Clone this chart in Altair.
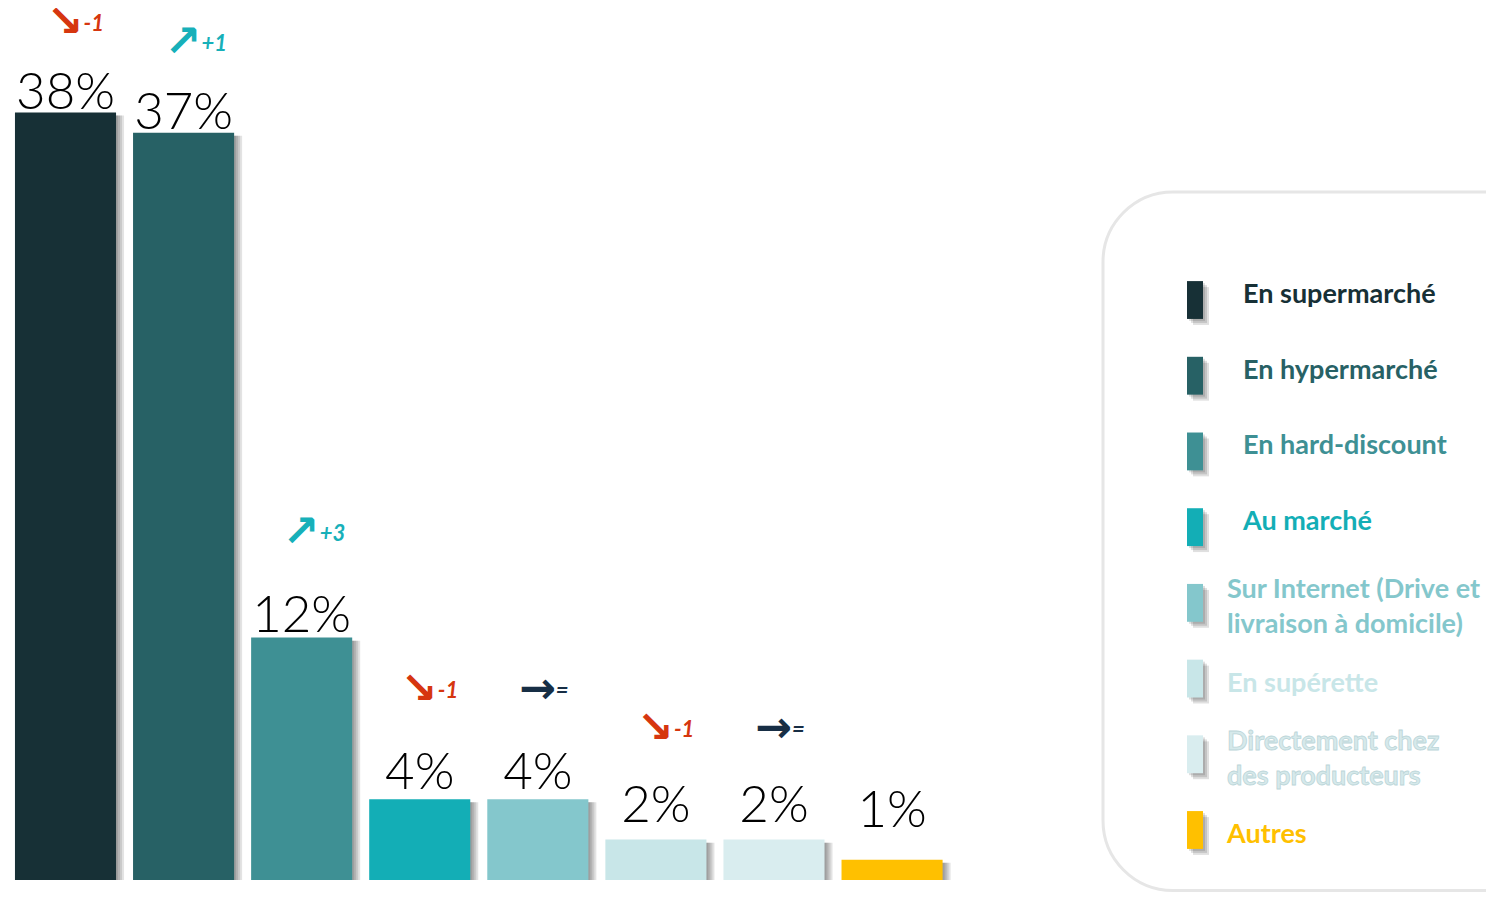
import altair as alt
import pandas as pd

# ---- data ----
categories = [
    "En supermarché", "En hypermarché", "En hard-discount", "Au marché",
    "Sur Internet (Drive et livraison à domicile)", "En supérette",
    "Directement chez des producteurs", "Autres",
]
legend_texts = [
    "En supermarché", "En hypermarché", "En hard-discount", "Au marché",
    "Sur Internet (Drive et\nlivraison à domicile)", "En supérette",
    "Directement chez\ndes producteurs", "Autres",
]
values = [38, 37, 12, 4, 4, 2, 2, 1]
changes = ["-1", "+1", "+3", "-1", "=", "-1", "=", ""]
bar_colors = ["#173036", "#276165", "#3E9094", "#13AEB6",
              "#84C7CC", "#C8E6E8", "#D9EDEF", "#FFC000"]
text_colors = ["#173036", "#276165", "#3E9094", "#13AEB6",
               "#84C7CC", "#C8E6E8", "#D6E9EB", "#FFC000"]

def arrow_of(c):
    if c.startswith("-"):
        return "↘", "#D6360F"
    if c.startswith("+"):
        return "↗", "#17B0B9"
    if c == "=":
        return "→", "#172E45"
    return "", "#000000"

arrows = [arrow_of(c)[0] for c in changes]
arrow_colors = [arrow_of(c)[1] for c in changes]

df = pd.DataFrame({
    "cat": categories,
    "value": values,
    "idx": list(range(len(values))),
    "color": bar_colors,
    "tcolor": text_colors,
    "change": changes,
    "arrow": arrows,
    "acolor": arrow_colors,
    "label": [f"{v}%" for v in values],
    "legend": legend_texts,
})

PXU = 20.2  # pixels per percent (for label offsets)
xs = alt.Scale(domain=[-0.487, 12.03], nice=False, zero=False)
ys = alt.Scale(domain=[-0.594, 43.17], nice=False, zero=False)
ly = alt.Scale(domain=[-3.857, 7.819], reverse=True, nice=False, zero=False)

base = alt.Chart(df).transform_calculate(
    x0="datum.idx - 0.428", x1="datum.idx + 0.428",
    base="0", stop="datum.value - 0.15",
    lab=f"datum.value + (3 + 30 / datum.value) / {PXU}",
    ann=f"datum.value + (112 - 0.6 * datum.value) / {PXU}",
)

# bar shadows
shadows = []
for k in [2, 4, 6, 8]:
    shadows.append(
        base.mark_rect(color="#000000", opacity=0.11, xOffset=k, x2Offset=k).encode(
            x=alt.X("x0:Q", scale=xs, axis=None), x2="x1:Q",
            y=alt.Y("stop:Q", scale=ys, axis=None), y2="base:Q",
        )
    )

bars = base.mark_rect().encode(
    x=alt.X("x0:Q", scale=xs, axis=None), x2="x1:Q",
    y=alt.Y("value:Q", scale=ys, axis=None), y2="base:Q",
    color=alt.Color("color:N", scale=None),
)

labels = base.mark_text(
    font="Lato", fontWeight=300, fontSize=51, align="center",
    baseline="alphabetic", color="#000000",
).encode(
    x=alt.X("idx:Q", scale=xs, axis=None),
    y=alt.Y("lab:Q", scale=ys, axis=None),
    text="label:N",
)

ann = base.transform_filter("datum.change != ''")
ann_arrow = ann.mark_text(
    font="DejaVu Sans", fontWeight="bold", fontSize=44, align="right",
    baseline="middle", dx=18,
).encode(
    x=alt.X("idx:Q", scale=xs, axis=None),
    y=alt.Y("ann:Q", scale=ys, axis=None),
    text="arrow:N",
    color=alt.Color("acolor:N", scale=None),
)
ann_num = ann.mark_text(
    font="Lato", fontWeight="bold", fontStyle="italic", fontSize=22,
    align="left", baseline="middle", dx=18, dy=1,
).encode(
    x=alt.X("idx:Q", scale=xs, axis=None),
    y=alt.Y("ann:Q", scale=ys, axis=None),
    text="change:N",
    color=alt.Color("acolor:N", scale=None),
)

# legend
frame = alt.Chart(pd.DataFrame({"k": [0]})).mark_rect(
    fillOpacity=0, stroke="#E6E6E6", strokeWidth=3, cornerRadius=70, clip=True,
).encode(
    x=alt.value(1095), x2=alt.value(1548), y=alt.value(184), y2=alt.value(882.5),
)

lbase = alt.Chart(df).transform_calculate(
    s0="datum.idx - 0.25", s1="datum.idx + 0.25",
    ty="datum.idx - (indexof(datum.legend, '\\n') >= 0 ? 0.231 : 0)",
)
lshadows = []
for k in [2, 4, 6]:
    lshadows.append(
        lbase.mark_rect(color="#000000", opacity=0.12, xOffset=k, x2Offset=k,
                        yOffset=k, y2Offset=k).encode(
            x=alt.value(1179), x2=alt.value(1195),
            y=alt.Y("s0:Q", scale=ly, axis=None), y2="s1:Q",
        )
    )
lsym = lbase.mark_rect().encode(
    x=alt.value(1179), x2=alt.value(1195),
    y=alt.Y("s0:Q", scale=ly, axis=None), y2="s1:Q",
    color=alt.Color("color:N", scale=None),
)
ltext1 = lbase.transform_filter("datum.idx < 4").mark_text(
    font="Lato", fontWeight="bold", fontSize=27, align="left",
    baseline="middle", lineBreak="\n", lineHeight=35, dy=-5,
).encode(
    x=alt.value(1235),
    y=alt.Y("ty:Q", scale=ly, axis=None),
    text="legend:N",
    color=alt.Color("tcolor:N", scale=None),
)
ltext2 = lbase.transform_filter("datum.idx >= 4").mark_text(
    font="Lato", fontWeight="bold", fontSize=27, align="left",
    baseline="middle", lineBreak="\n", lineHeight=35, dy=5,
).encode(
    x=alt.value(1219),
    y=alt.Y("ty:Q", scale=ly, axis=None),
    text="legend:N",
    color=alt.Color("tcolor:N", scale=None),
)
ltext_outline = lbase.transform_filter("datum.idx == 6").mark_text(
    font="Lato", fontWeight="bold", fontSize=27, align="left",
    baseline="middle", lineBreak="\n", lineHeight=35, dy=5,
    fillOpacity=0, stroke="#BCD6D9", strokeWidth=0.8,
).encode(
    x=alt.value(1219),
    y=alt.Y("ty:Q", scale=ly, axis=None),
    text="legend:N",
)

chart = alt.layer(
    frame, *shadows, bars, labels, ann_arrow, ann_num,
    *lshadows, lsym, ltext1, ltext2, ltext_outline,
).resolve_scale(
    x="independent", y="independent"
).properties(
    width=1478, height=884, padding=0,
    autosize=alt.AutoSizeParams(type="none"),
    background="white",
).configure_view(stroke=None)

chart.save("out.html", embed_options={"renderer": "svg", "actions": False})
